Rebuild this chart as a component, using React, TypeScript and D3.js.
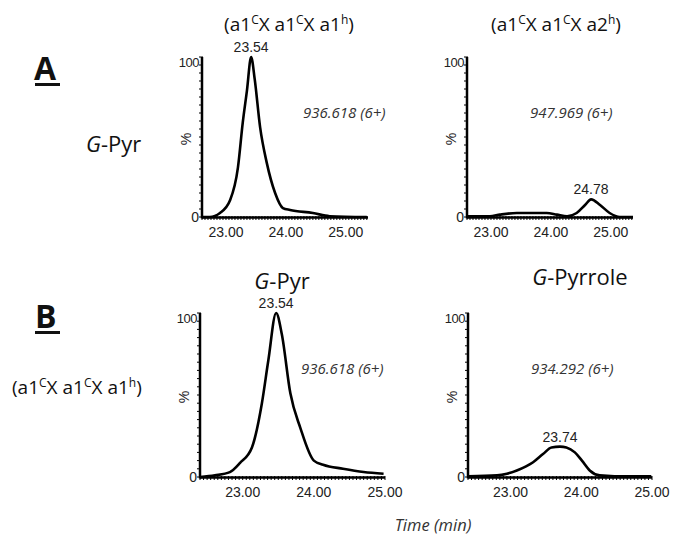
import React from "react";
import * as d3 from "d3";

// chromatogram traces (time in min, intensity in %)
const aPyrTime = [22.6, 22.73, 22.9, 23.07, 23.2, 23.28, 23.35, 23.42, 23.48, 23.57, 23.68, 23.82, 23.95, 24.07, 24.45, 24.73, 25.35];
const aPyrPct = [0, 0, 2.5, 10.6, 31, 59, 79, 100, 86, 56, 34, 15, 5.6, 4.4, 2.5, 0.5, 0];

const aA2Time = [22.6, 22.98, 23.15, 23.43, 23.93, 24.1, 24.27, 24.43, 24.57, 24.67, 24.82, 24.98, 25.15, 25.37];
const aA2Pct = [0.5, 0.5, 1.5, 2.5, 2.5, 1.5, 0.5, 2.5, 7.5, 11, 7.5, 2.5, 0, 0];

const bPyrTime = [22.4, 22.61, 22.82, 22.96, 23.13, 23.27, 23.36, 23.47, 23.55, 23.67, 23.81, 24.0, 24.13, 24.41, 24.7, 24.98];
const bPyrPct = [0, 1, 3, 8.5, 18, 45, 71, 100, 87, 51, 30, 10, 7.5, 5, 3, 2];

const bPyrroleTime = [22.4, 22.81, 22.95, 23.09, 23.22, 23.32, 23.46, 23.58, 23.7, 23.79, 23.91, 24.01, 24.12, 24.26, 24.47, 24.99];
const bPyrrolePct = [0.5, 1, 2, 4, 6.5, 9, 14, 18, 18.5, 18, 15, 10, 4, 1, 0.5, 0.5];

const xTicks = [23, 24, 25];
const yTickLabels = ["0", "100"];
const massLabels = ["936.618 (6+)", "947.969 (6+)", "936.618 (6+)", "934.292 (6+)"];
const peakLabels = ["23.54", "24.78", "23.54", "23.74"];
const peakTimes = [23.42, 24.67, 23.47, 23.7];
const peakPcts = [100, 11, 100, 18.5];

const sansTick = "'Liberation Sans', Arial, sans-serif";
const sansTitle = "'Open Sans', Lato, sans-serif";

type PanelProps = {
  x0: number; x1: number; yTop: number; yBot: number;
  domain: [number, number];
  time: number[]; pct: number[];
  idx: number;
};

const Panel = ({ x0, x1, yTop, yBot, domain, time, pct, idx }: PanelProps) => {
  const x = d3.scaleLinear().domain(domain).range([x0, x1]);
  const y = d3.scaleLinear().domain([0, 100]).range([yBot, yTop]);
  const line = d3
    .line<number>()
    .x((_, i) => x(time[i]))
    .y((d) => y(d))
    .curve(d3.curveMonotoneX);

  // minor tick dots along the axes
  const minorX = d3.range(Math.ceil(domain[0] * 20) / 20, domain[1], 0.05);
  const minorY = d3.range(0, 101, 5);

  return (
    <g>
      <path d={line(pct) || ""} fill="none" stroke="#000" strokeWidth={2.6} strokeLinejoin="round" />
      <line x1={x0} x2={x1} y1={yBot + 0.5} y2={yBot + 0.5} stroke="#000" strokeWidth={2.5} />
      <line x1={x0} x2={x0} y1={yTop} y2={yBot + 1.5} stroke="#000" strokeWidth={2.5} />
      {minorX.map((t, i) => (
        <line key={"mx" + i} x1={x(t)} x2={x(t)} y1={yBot - 1} y2={yBot + 3} stroke="#000" strokeWidth={1} />
      ))}
      {minorY.map((v, i) => (
        <line key={"my" + i} x1={x0 - 3} x2={x0 + 1} y1={y(v)} y2={y(v)} stroke="#000" strokeWidth={1} />
      ))}
      {xTicks.map((t) => (
        <text key={t} x={x(t)} y={yBot + 20} textAnchor="middle" fontFamily={sansTick} fontSize={14} fill="#222">
          {t.toFixed(2)}
        </text>
      ))}
      <text x={x0 - 3} y={yBot + 5} textAnchor="end" fontFamily={sansTick} fontSize={14} fill="#222">
        {yTickLabels[0]}
      </text>
      <text x={x0 - 3} y={yTop + 10} textAnchor="end" fontFamily={sansTick} fontSize={13} fill="#222" letterSpacing={-0.5}>
        {yTickLabels[1]}
      </text>
      <text
        transform={`translate(${x0 - 11},${(yTop + yBot) / 2 + 2}) rotate(-90)`}
        textAnchor="middle"
        fontFamily={sansTick}
        fontSize={14}
        fill="#222"
      >
        %
      </text>
      <text x={x(peakTimes[idx])} y={y(peakPcts[idx]) - 5} textAnchor="middle" fontFamily={sansTick} fontSize={14} fill="#222">
        {peakLabels[idx]}
      </text>
      <text x={x0 + (idx % 2 === 0 ? 101 : 63)} y={yTop + 61} fontFamily={sansTitle} fontStyle="italic" fontSize={15} fill="#333">
        {massLabels[idx]}
      </text>
    </g>
  );
};

const Chain = ({ x, y, last, anchor = "middle" }: { x: number; y: number; last: string; anchor?: string }) => (
  <text x={x} y={y} textAnchor={anchor as any} fontFamily={sansTitle} fontSize={19} fill="#111">
    (a1<tspan dy={-7} fontSize={12}>C</tspan>
    <tspan dy={7}>X a1</tspan>
    <tspan dy={-7} fontSize={12}>C</tspan>
    <tspan dy={7}>X {last}</tspan>
    <tspan dy={-7} fontSize={12}>h</tspan>
    <tspan dy={7}>)</tspan>
  </text>
);

const GLabel = ({ x, y, rest, anchor = "middle" }: { x: number; y: number; rest: string; anchor?: string }) => (
  <text x={x} y={y} textAnchor={anchor as any} fontFamily={sansTitle} fontSize={22} fill="#111">
    <tspan fontStyle="italic">G</tspan>-{rest}
  </text>
);

export default function App() {
  return (
    <svg width={680} height={538} style={{ position: "absolute", left: 0, top: 0, background: "#fff" }}>
      <rect width={680} height={538} fill="#fff" />
      {/* panel letters */}
      <text x={34} y={80} fontFamily={sansTitle} fontWeight="bold" fontSize={32} fill="#111">A</text>
      <rect x={35} y={83} width={25} height={3} fill="#111" />
      <text x={35} y={328} fontFamily={sansTitle} fontWeight="bold" fontSize={32} fill="#111">B</text>
      <rect x={35} y={331} width={25} height={3} fill="#111" />

      <GLabel x={86} y={152} rest="Pyr" anchor="start" />
      <Chain x={12} y={394} last="a1" anchor="start" />

      <Chain x={289} y={31} last="a1" />
      <Chain x={556} y={31} last="a2" />
      <GLabel x={282} y={289} rest="Pyr" />
      <GLabel x={580} y={285} rest="Pyrrole" />

      <Panel x0={202} x1={368} yTop={57} yBot={217} domain={[22.6, 25.37]} time={aPyrTime} pct={aPyrPct} idx={0} />
      <Panel x0={467} x1={633} yTop={57} yBot={217} domain={[22.6, 25.37]} time={aA2Time} pct={aA2Pct} idx={1} />
      <Panel x0={200} x1={385} yTop={313} yBot={477} domain={[22.4, 25.0]} time={bPyrTime} pct={bPyrPct} idx={2} />
      <Panel x0={468} x1={652} yTop={313} yBot={477} domain={[22.4, 25.0]} time={bPyrroleTime} pct={bPyrrolePct} idx={3} />

      <text x={433} y={531} textAnchor="middle" fontFamily={sansTitle} fontStyle="italic" fontSize={16.5} fill="#333">
        Time (min)
      </text>
    </svg>
  );
}
